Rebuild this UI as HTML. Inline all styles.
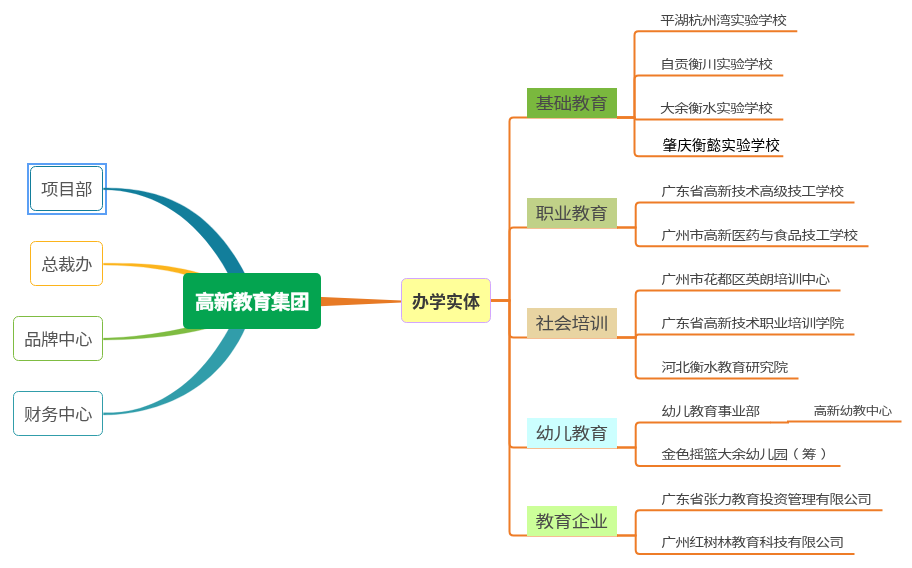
<!DOCTYPE html>
<html lang="zh-CN"><head><meta charset="utf-8"><title>高新教育集团</title>
<style>
html,body{margin:0;padding:0;background:#fff}
body{width:912px;height:568px;overflow:hidden}
svg{display:block;will-change:transform}
text{font-family:'Liberation Sans', 'Noto Sans CJK SC', sans-serif;font-weight:350}
.ln{fill:none;stroke:#ee7c27;stroke-width:2;stroke-linejoin:miter}
.leaf{fill:#444;font-weight:400}
.l2{fill:#4a4a4a;font-weight:400}
.l1{fill:#555;font-weight:400}
</style>
</head><body>
<svg width="912" height="568" viewBox="0 0 912 568">
<rect width="912" height="568" fill="#fff"/>
<rect x="28" y="164" width="78" height="50" fill="#fff" stroke="#5b9ff5" stroke-width="2"/>
<path d="M103.5 187.9 C159.3 187.9 218.9 203.5 257.2 301 L241 301 C212.1 229.2 162.7 189.7 103.5 189.7 Z" fill="#127e9b" stroke="#127e9b" stroke-width="0.3" stroke-linejoin="round"/>
<path d="M103.5 414.9 C143.3 414.9 228 399.6 255 301 L242.3 301 C192 420.6 111.5 412.7 103.5 412.7 Z" fill="#319daa" stroke="#319daa" stroke-width="0.3" stroke-linejoin="round"/>
<path d="M103.5 263.2 C157.8 263.2 191.7 265 252 293 L252 309 C231 286.1 179.2 265.1 103.5 265.1 Z" fill="#fcb41c" stroke="#fcb41c" stroke-width="0.3" stroke-linejoin="round"/>
<path d="M103.5 339.9 C153.5 339.9 224.1 331.8 252 309 L252 293 C247.3 320.6 151.3 338 103.5 338 Z" fill="#7fbc42" stroke="#7fbc42" stroke-width="0.3" stroke-linejoin="round"/>
<path d="M252 293.8 L401.5 300.6 L401.5 302.6 L252 309.3 Z" fill="#e77a25"/>
<path class="ln" d="M490.5 300.4 H509.5 V121.4 Q509.5 117.4 513.5 117.4 H618"/>
<path class="ln" d="M490.5 300.4 H509.5 V231.4 Q509.5 227.4 513.5 227.4 H618"/>
<path class="ln" d="M490.5 300.4 H509.5 V333.4 Q509.5 337.4 513.5 337.4 H618"/>
<path class="ln" d="M490.5 300.4 H509.5 V443.4 Q509.5 447.4 513.5 447.4 H618"/>
<path class="ln" d="M490.5 300.4 H509.5 V531.4 Q509.5 535.4 513.5 535.4 H618"/>
<path class="ln" d="M617 117.4 H634.5 V35.3 Q634.5 31.3 638.5 31.3 H797.3"/>
<path class="ln" d="M617 117.4 H634.5 V79.4 Q634.5 75.4 638.5 75.4 H783.3"/>
<path class="ln" d="M617 117.4 H634.5 V117.4 Q634.5 119.4 636.5 119.4 H783.3"/>
<path class="ln" d="M617 117.4 H634.5 V152.2 Q634.5 156.2 638.5 156.2 H783.3"/>
<path class="ln" d="M617 227.4 H635.7 V206.5 Q635.7 202.5 639.7 202.5 H854.5"/>
<path class="ln" d="M617 227.4 H635.7 V242.3 Q635.7 246.3 639.7 246.3 H868.5"/>
<path class="ln" d="M617 337.4 H635.7 V294.4 Q635.7 290.4 639.7 290.4 H840.5"/>
<path class="ln" d="M617 337.4 H635.7 V337.4 Q635.7 334.4 638.7 334.4 H854.5"/>
<path class="ln" d="M617 337.4 H635.7 V374.4 Q635.7 378.4 639.7 378.4 H798.5"/>
<path class="ln" d="M617 447.4 H635.7 V426.5 Q635.7 422.5 639.7 422.5 H770.5"/>
<path class="ln" d="M617 447.4 H635.7 V462.1 Q635.7 466.1 639.7 466.1 H840.5"/>
<path class="ln" d="M617 535.4 H635.7 V514.3 Q635.7 510.3 639.7 510.3 H882.5"/>
<path class="ln" d="M617 535.4 H635.7 V549.9 Q635.7 553.9 639.7 553.9 H854.5"/>
<path class="ln" d="M770 422.5 H788 V421.4 H901.5"/>
<rect x="527" y="88" width="90" height="30" fill="#7ab83e"/>
<text class="l2" transform="translate(535.6 109.2) scale(1.04 0.9)" style="font-size:18px;letter-spacing:-0.692px;">基础教育</text>
<rect x="527" y="198" width="90" height="30" fill="#c0d188"/>
<text class="l2" transform="translate(535.6 219.2) scale(1.04 0.9)" style="font-size:18px;letter-spacing:-0.692px;">职业教育</text>
<rect x="527" y="308" width="90" height="30" fill="#e8d4a2"/>
<text class="l2" transform="translate(535.6 329.2) scale(1.04 0.9)" style="font-size:18px;letter-spacing:-0.692px;">社会培训</text>
<rect x="527" y="418" width="90" height="30" fill="#ccffff"/>
<text class="l2" transform="translate(535.6 439.2) scale(1.04 0.9)" style="font-size:18px;letter-spacing:-0.692px;">幼儿教育</text>
<rect x="527" y="506" width="90" height="30" fill="#ccff99"/>
<text class="l2" transform="translate(535.6 527.2) scale(1.04 0.9)" style="font-size:18px;letter-spacing:-0.692px;">教育企业</text>
<text class="leaf" transform="translate(660.1 24.5) scale(1.07 0.88)" style="font-size:14px;letter-spacing:-0.916px;">平湖杭州湾实验学校</text>
<text class="leaf" transform="translate(660.1 68.6) scale(1.07 0.88)" style="font-size:14px;letter-spacing:-0.916px;">自贡衡川实验学校</text>
<text class="leaf" transform="translate(660.1 112.6) scale(1.07 0.88)" style="font-size:14px;letter-spacing:-0.916px;">大余衡水实验学校</text>
<text transform="translate(662.5 150.2) scale(1 0.92)" style="font-size:14.7px;letter-spacing:0.000px;fill:#000;font-weight:400">肇庆衡懿实验学校</text>
<text class="leaf" transform="translate(661.3 195.7) scale(1.07 0.88)" style="font-size:14px;letter-spacing:-0.916px;">广东省高新技术高级技工学校</text>
<text class="leaf" transform="translate(661.3 239.5) scale(1.07 0.88)" style="font-size:14px;letter-spacing:-0.916px;">广州市高新医药与食品技工学校</text>
<text class="leaf" transform="translate(661.3 283.6) scale(1.07 0.88)" style="font-size:14px;letter-spacing:-0.916px;">广州市花都区英朗培训中心</text>
<text class="leaf" transform="translate(661.3 327.6) scale(1.07 0.88)" style="font-size:14px;letter-spacing:-0.916px;">广东省高新技术职业培训学院</text>
<text class="leaf" transform="translate(661.3 371.6) scale(1.07 0.88)" style="font-size:14px;letter-spacing:-0.916px;">河北衡水教育研究院</text>
<text class="leaf" transform="translate(661.3 415.7) scale(1.07 0.88)" style="font-size:14px;letter-spacing:-0.916px;">幼儿教育事业部</text>
<text class="leaf" transform="translate(661.3 459.3) scale(1.07 0.88)" style="font-size:14px;letter-spacing:-0.916px;">金色摇篮大余幼儿园<tspan dx="-3.1">（</tspan><tspan dx="3.7">筹</tspan><tspan dx="4.3">）</tspan></text>
<text class="leaf" transform="translate(661.3 503.5) scale(1.07 0.88)" style="font-size:14px;letter-spacing:-0.916px;">广东省张力教育投资管理有限公司</text>
<text class="leaf" transform="translate(661.3 547.1) scale(1.07 0.88)" style="font-size:14px;letter-spacing:-0.916px;">广州红树林教育科技有限公司</text>
<text class="leaf" transform="translate(813.6 414.9) scale(1.06 0.9)" style="font-size:13px;letter-spacing:-0.736px;">高新幼教中心</text>
<rect x="183" y="273" width="138" height="56" rx="5" fill="#04a450"/>
<text x="251.9" y="309.1" letter-spacing="-0.5" style="font-size:19.5px;font-weight:700;text-anchor:middle" fill="#fff" stroke="#fff" stroke-width="0.5">高新教育集团</text>
<rect x="401.5" y="278.5" width="89" height="44" rx="5" fill="#ffff99" stroke="#d2a6ff" stroke-width="1"/>
<text x="446" y="307.8" style="font-size:17px;font-weight:700;text-anchor:middle" fill="#3a3a3a">办学实体</text>
<rect x="30.5" y="166.5" width="72" height="44" rx="5" fill="#fff" stroke="#127e9b" stroke-width="1"/>
<text class="l1" transform="translate(41 195.1) scale(1.03 0.92)" style="font-size:17px;letter-spacing:-0.495px;">项目部</text>
<rect x="30.5" y="241.5" width="72" height="44" rx="5" fill="#fff" stroke="#fcb41c" stroke-width="1"/>
<text class="l1" transform="translate(41 270.1) scale(1.03 0.92)" style="font-size:17px;letter-spacing:-0.495px;">总裁办</text>
<rect x="13.5" y="316.5" width="89" height="44" rx="5" fill="#fff" stroke="#7fbc42" stroke-width="1"/>
<text class="l1" transform="translate(24 345.1) scale(1.03 0.92)" style="font-size:17px;letter-spacing:-0.495px;">品牌中心</text>
<rect x="13.5" y="391.5" width="89" height="44" rx="5" fill="#fff" stroke="#319daa" stroke-width="1"/>
<text class="l1" transform="translate(24 420.1) scale(1.03 0.92)" style="font-size:17px;letter-spacing:-0.495px;">财务中心</text>
</svg></body></html>
